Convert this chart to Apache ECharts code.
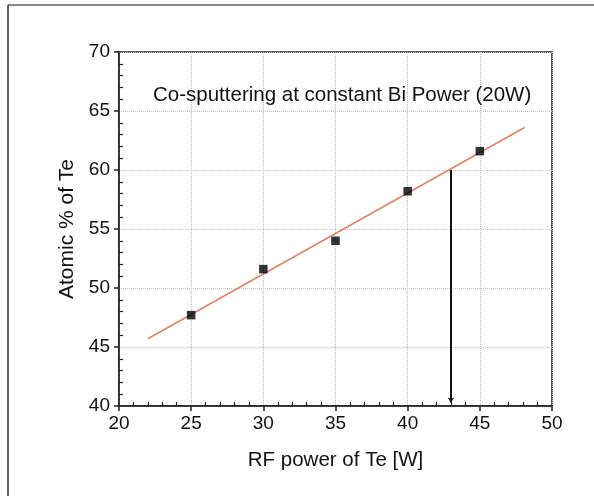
<!DOCTYPE html>
<html>
<head>
<meta charset="utf-8">
<script src="https://cdn.jsdelivr.net/npm/echarts@6/dist/echarts.min.js"></script>
<style>
  html, body { margin: 0; padding: 0; background: #fff; }
  #main { width: 594px; height: 496px; }
</style>
</head>
<body>
<div id="main"></div>
<script>
// measured points (RF power of Te vs atomic % of Te)
var rfPower = [25, 30, 35, 40, 45];
var atomicTe = [47.7, 51.6, 54.0, 58.2, 61.6];
// linear fit drawn as a straight line between its end points
var fitX = [22, 48.1];
var fitY = [45.7, 63.6];
// vertical marker at 43 W, from 60 % down to the axis
var markX = 43;
var markTop = 60;
var markBottom = 40.3;
var xTicks = [20, 25, 30, 35, 40, 45, 50];
var yTicks = [40, 45, 50, 55, 60, 65, 70];

var font = '"Liberation Sans", Arial, sans-serif';

var chart = echarts.init(document.getElementById('main'));

var scatterData = rfPower.map(function (x, i) { return [x, atomicTe[i]]; });
var fitData = fitX.map(function (x, i) { return [x, fitY[i]]; });

var option = {
    backgroundColor: '#fff',
    animation: false,
    title: {
        text: 'Co-sputtering at constant Bi Power (20W)',
        left: 148,
        top: 80,
        textStyle: { fontFamily: font, fontSize: 20.5, fontWeight: 'normal', color: '#111' }
    },
    graphic: [
        { type: 'line', shape: { x1: 8, y1: 5, x2: 594, y2: 5 }, style: { stroke: '#888', lineWidth: 2 } },
        { type: 'line', shape: { x1: 8, y1: 5, x2: 8, y2: 496 }, style: { stroke: '#333', lineWidth: 1.5 } }
    ],
    grid: {
        left: 119, right: 42, top: 52, bottom: 90,
        show: true, borderColor: '#222', borderWidth: 1.5
    },
    xAxis: {
        type: 'value',
        min: xTicks[0], max: xTicks[xTicks.length - 1], interval: 5,
        name: 'RF power of Te [W]',
        nameLocation: 'middle',
        nameGap: 44,
        nameTextStyle: { fontFamily: font, fontSize: 20.5, color: '#111' },
        axisLine: { onZero: false, lineStyle: { color: '#222', width: 1.5 } },
        axisTick: { length: 5, lineStyle: { color: '#222', width: 1.5 } },
        minorTick: { show: true, splitNumber: 5, length: -4, lineStyle: { color: '#222', width: 1.2 } },
        axisLabel: { margin: 8, fontFamily: font, fontSize: 19, color: '#111' },
        splitLine: { show: true, lineStyle: { color: '#c6b6d6', type: 'dotted', width: 1 } }
    },
    yAxis: {
        type: 'value',
        min: yTicks[0], max: yTicks[yTicks.length - 1], interval: 5,
        name: 'Atomic % of Te',
        nameLocation: 'middle',
        nameGap: 41,
        nameTextStyle: { fontFamily: font, fontSize: 21, color: '#111' },
        axisLine: { onZero: false, lineStyle: { color: '#222', width: 1.5 } },
        axisTick: { length: 5, lineStyle: { color: '#222', width: 1.5 } },
        minorTick: { show: true, splitNumber: 5, length: -4, lineStyle: { color: '#222', width: 1.2 } },
        axisLabel: { margin: 9, fontFamily: font, fontSize: 19, color: '#111' },
        splitLine: { show: true, lineStyle: { color: '#d2b8c8', type: 'dotted', width: 1 } }
    },
    series: [
        {
            name: 'fit',
            type: 'line',
            data: fitData,
            symbol: 'none',
            lineStyle: { color: '#d9866c', width: 1.6 },
            z: 2
        },
        {
            name: 'data',
            type: 'scatter',
            data: scatterData,
            symbol: 'rect',
            symbolSize: 8.5,
            itemStyle: { color: '#000' },
            z: 3,
            markLine: {
                silent: true,
                symbolSize: 5,
                lineStyle: { color: '#111', width: 2, type: 'solid' },
                label: { show: false },
                data: [[
                    { coord: [markX, markTop], symbol: 'none' },
                    { coord: [markX, markBottom], symbol: 'arrow' }
                ]]
            }
        }
    ]
};

chart.setOption(option);
</script>
</body>
</html>
